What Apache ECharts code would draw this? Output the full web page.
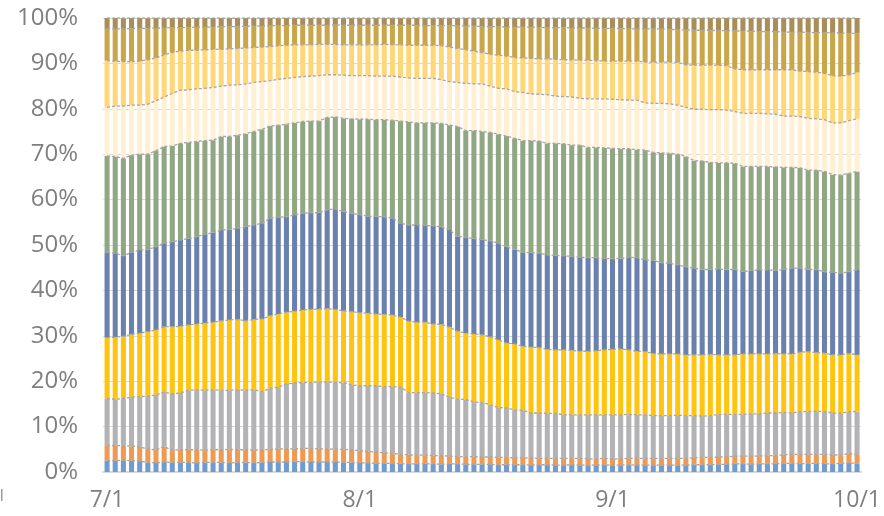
<!DOCTYPE html>
<html>
<head>
<meta charset="utf-8">
<script src="https://cdn.jsdelivr.net/npm/echarts@6/dist/echarts.min.js"></script>
<style>
  html, body { margin: 0; padding: 0; background: #fff; }
  #chart { width: 884px; height: 516px; }
</style>
</head>
<body>
<div id="chart"></div>
<script>
// daily categories 7/1 .. 10/1
const monthDays = [[7, 31], [8, 31], [9, 30], [10, 1]];
const days = [];
monthDays.forEach(([m, n]) => { for (let d = 1; d <= n; d++) days.push(m + "/" + d); });

// cumulative top edge (%) of each band, bottom to top
const top1 = [2.5,2.5,2.6,2.5,2.4, 2.1,2.0,2.2,2.1,2.1,2.1,2.0,2.1,2.1,2.1,2.0,2.1,2.1,2.0,2.1,
  2.2,2.2,2.2,2.3,2.3,2.2,2.2,2.2,2.2,2.1,2.1, 2.0,2.0,1.9,1.9,1.9,1.8,1.8,1.8,1.8,1.8,1.7,1.8,1.8,1.7,1.7,
  1.7,1.7,1.6,1.6,1.6,1.6,1.5,1.6,1.6,1.5,1.5,1.6,1.5,1.5,1.5,1.6,1.5,1.5,1.6,1.5,1.5,1.5,1.5,1.5,
  1.5,1.5,1.6,1.6,1.6,1.7,1.7,1.8,1.8,1.7,1.8,1.8,1.8,1.9,1.9,1.8,1.9,1.9,1.8,1.8,1.9,2.0,1.9];
const top2 = [5.9,5.8,5.8,5.7,5.6, 5.0,4.9,5.6, 4.8,4.9,4.9,4.9,4.8,4.9,4.9,5.0,4.9,4.9,4.8,4.9,
  5.0,5.1,5.1,5.1,5.2,5.2,5.1,5.1,5.0,5.0,4.9, 4.7,4.5,4.4,4.2,4.1,3.9,3.8,3.7,3.7,3.6,3.6,3.5,3.4,3.4,3.4,
  3.3,3.3,3.2,3.2,3.1,3.1,3.1,3.0,3.0,3.0,3.0,3.0,3.0,2.9,2.9,3.0,2.9,2.9,3.0,3.0,3.0,3.0,3.0,3.0,
  3.0,3.0,3.1,3.2,3.2,3.3,3.3,3.5,3.5,3.5,3.5,3.6,3.6,3.8,3.9,3.9,3.9,3.9,3.9,3.8,3.7,4.1,3.9];
const top3 = [16.2,16.0,16.2,16.5,16.6,16.7,17.0,17.6,17.2,17.4, 18.0,18.1,18.0,18.1,18.0,18.0,18.1,18.0,18.1,17.7,
  18.4,18.7,19.4,19.6,19.7,19.7,19.8,19.8,19.7,19.7, 19.2,19.0,19.0,19.0,18.8,18.8,18.7,17.5,17.5,17.5,
  17.4,17.2,16.5,16.0,16.0,15.4,15.3,14.8,14.2,14.1, 13.7,13.6,13.0,13.0,12.9,12.9,12.6,12.6,12.6,12.6,
  12.6,12.6,12.6,12.6,12.7,12.6,12.6,12.4,12.4,12.4, 12.5,12.4,12.4,12.3,12.4,12.7,12.7,12.7,12.7,12.8,
  12.8,13.0,13.0,13.1,13.0,13.3,13.3,13.4,13.3,13.0, 12.9,13.3,13.3];
const top4 = [29.6,29.7,29.9,30.3,30.6,30.9,31.3,32.0,32.0,32.1, 32.4,32.6,32.8,33.0,33.3,33.5,33.6,33.3,33.6,33.7,
  34.4,34.8,35.2,35.4,35.7,35.8,35.9,36.0,35.8,35.5, 35.3,35.1,35.0,34.8,34.7,34.6,34.1,33.2,33.0,33.0,
  32.6,32.5,31.9,31.0,30.6,30.4,30.2,29.8,29.1,28.4, 28.2,27.7,27.5,27.4,27.0,26.9,26.9,26.8,26.6,26.6,
  26.7,26.9,27.0,27.1,26.9,26.6,26.5,26.1,26.0,26.0, 26.0,25.8,25.8,25.8,25.9,25.8,25.8,25.8,26.0,26.0,
  26.0,26.0,26.1,26.0,26.0,26.4,26.5,26.3,26.2,25.8, 25.8,26.1,25.8];
const top5 = [48.4,48.2,47.6,48.4,48.9,49.0,49.6,50.4,50.7,51.1, 51.4,51.8,52.4,52.7,53.3,53.4,53.7,54.0,54.4,54.8,
  55.9,56.1,56.2,56.6,57.0,57.1,57.1,57.8,57.9,57.4, 56.9,56.7,56.3,56.3,56.2,55.9,54.8,54.4,54.4,54.3,
  54.2,54.0,53.3,51.9,51.7,51.4,51.2,50.9,50.4,49.6, 49.0,48.4,48.3,48.2,47.8,47.7,47.6,47.5,47.3,47.2,
  47.2,47.0,47.0,47.0,47.3,47.2,46.7,46.6,46.1,46.0, 45.6,45.2,44.9,44.6,44.6,44.7,44.6,44.6,44.1,44.4,
  44.5,44.5,44.4,44.6,44.9,44.9,44.6,44.6,44.1,44.0, 43.8,44.1,44.5];
const top6 = [69.6,69.5,69.1,69.8,70.0,70.0,70.8,71.7,71.8,72.4, 72.6,72.8,73.0,73.1,73.9,73.9,74.2,74.5,75.0,75.5,
  76.2,76.4,76.6,76.9,77.2,77.3,77.3,78.1,78.2,77.9, 77.8,77.7,77.7,77.6,77.6,77.5,77.3,77.1,76.9,76.9,
  76.9,76.8,76.4,76.1,75.2,75.2,75.0,74.8,74.4,74.0, 73.5,73.0,73.0,72.9,72.4,72.4,72.3,72.0,72.0,71.5,
  71.5,71.4,71.3,71.2,71.2,71.0,70.9,70.4,70.3,70.2, 70.0,69.5,68.6,68.5,68.2,68.1,68.1,68.0,67.3,67.3,
  67.3,67.3,67.2,67.1,67.1,67.0,66.5,66.5,66.2,65.5, 65.4,65.8,66.2];
const top7 = [80.3,80.6,80.6,80.8,80.8,81.0,81.8,82.6,83.4,84.1, 84.2,84.4,84.5,84.7,85.0,85.2,85.3,85.5,85.8,86.0,
  86.2,86.5,86.7,86.9,87.1,87.2,87.3,87.5,87.5,87.4, 87.3,87.3,87.3,87.2,87.2,87.2,87.0,86.8,86.7,86.7,
  86.7,86.4,86.0,85.8,85.6,85.5,85.5,85.0,84.5,84.4, 83.8,83.6,83.3,83.2,83.1,82.8,82.7,82.6,82.3,82.2,
  82.2,82.2,82.1,82.0,81.9,81.9,81.3,81.2,81.2,81.1, 80.8,80.3,79.9,79.9,79.8,79.8,79.7,79.4,79.0,79.0,
  79.0,78.9,78.8,78.4,78.4,78.3,77.9,77.8,77.6,76.9, 76.9,77.4,77.8];
const top8 = [90.6,90.5,90.4,90.4,90.5,90.8,91.2,91.9,92.4,92.7, 92.9,92.9,93.0,93.1,93.1,93.2,93.3,93.4,93.5,93.6,
  93.7,93.9,94.0,94.1,94.1,94.1,94.2,94.2,94.2,94.1, 94.1,94.1,94.1,94.1,94.2,94.1,94.1,94.0,94.0,94.0,
  94.0,93.9,93.6,93.3,93.0,92.7,92.4,92.0,91.8,91.6, 91.3,91.2,91.1,91.0,91.0,90.9,90.8,90.8,90.7,90.7,
  90.6,90.5,90.5,90.5,90.5,90.5,90.3,90.3,90.3,90.3, 90.2,89.7,89.6,89.6,89.6,89.6,89.5,88.8,88.6,88.6,
  88.6,88.6,88.6,88.6,88.6,88.3,88.2,88.1,87.8,87.3, 87.2,87.5,88.0];
const top9 = [97.6,97.6,97.6,97.7,97.7,97.7,97.8,97.8,97.9,97.9, 97.9,98.0,98.0,98.0,98.1,98.1,98.1,98.2,98.2,98.2,
  98.3,98.3,98.3,98.4,98.4,98.4,98.4,98.4,98.5,98.4, 98.4,98.4,98.4,98.4,98.4,98.4,98.4,98.4,98.4,98.3,
  98.3,98.3,98.3,98.3,98.2,98.2,98.1,98.1,98.1,98.0, 98.0,98.0,98.0,97.9,97.9,97.9,97.9,97.8,97.8,97.8,
  97.7,97.7,97.7,97.7,97.6,97.6,97.6,97.6,97.6,97.5, 97.4,97.4,97.3,97.3,97.3,97.2,97.2,97.2,97.1,97.1,
  97.0,97.0,97.0,96.9,96.9,96.9,96.8,96.8,96.8,96.7, 96.7,96.6,96.6];
const top10 = days.map(() => 100);

const tops = [top1, top2, top3, top4, top5, top6, top7, top8, top9, top10];
const colors = ["#709bd0", "#ee9a52", "#b3b3b6", "#ffc40f", "#6b81ad",
                "#91a783", "#ffefd3", "#ffd779", "#caa64a", "#a98e57"];

const isMonthStart = (idx, val) => /\/1$/.test(val);

const barSeries = tops.map((t, k) => ({
  type: "bar",
  stack: "share",
  barCategoryGap: "38%",
  itemStyle: { color: colors[k] },
  data: t.map((v, i) => +(v - (k ? tops[k - 1][i] : 0)).toFixed(2)),
  silent: true,
  z: 2
}));

const lineSeries = tops.map(t => ({
  type: "line",
  data: t,
  showSymbol: false,
  silent: true,
  lineStyle: { color: "#a6a6a6", width: 1.3, type: [3, 2] },
  z: 4
}));

const chart = echarts.init(document.getElementById("chart"));
chart.setOption({
  animation: false,
  grid: { left: 103, right: 21, top: 18, bottom: 44 },
  xAxis: {
    type: "category",
    data: days,
    boundaryGap: true,
    axisLine: { lineStyle: { color: "#d9d9d9", width: 2 } },
    axisTick: { interval: isMonthStart, length: 6, lineStyle: { color: "#d9d9d9", width: 2 } },
    axisLabel: {
      interval: isMonthStart, margin: 17,
      color: "#7f7f7f", fontSize: 23, fontFamily: "Open Sans"
    }
  },
  yAxis: {
    type: "value",
    min: 0, max: 100, interval: 10,
    axisLine: { show: false },
    axisTick: { show: false },
    axisLabel: {
      formatter: "{value}%", margin: 25,
      color: "#7f7f7f", fontSize: 24, fontFamily: "Open Sans"
    },
    splitLine: { lineStyle: { color: "#d9d9d9", width: 1 } }
  },
  graphic: [{
    type: "rect", left: 1, top: 489,
    shape: { width: 1.5, height: 12 },
    style: { fill: "#9a9a9a" }
  }],
  series: barSeries.concat(lineSeries)
});
</script>
</body>
</html>
